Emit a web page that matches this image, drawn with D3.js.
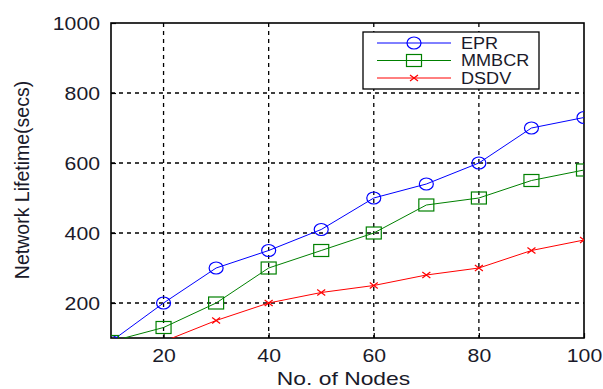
<!DOCTYPE html>
<html>
<head>
<meta charset="utf-8">
<script src="https://cdn.jsdelivr.net/npm/d3@7"></script>
<style>
  body { margin: 0; background: #fff; }
  text { font-family: "Liberation Sans", Arial, sans-serif; fill: #1a1a2a; }
</style>
</head>
<body>
<svg id="canvas" width="603" height="389"></svg>
<script>
const nodes = [10, 20, 30, 40, 50, 60, 70, 80, 90, 100]
const epr = [90, 200, 300, 350, 410, 500, 540, 600, 700, 730]
const mmbcr = [90, 130, 200, 300, 350, 400, 480, 500, 550, 580]
const dsdv = [50, 90, 150, 200, 230, 250, 280, 300, 350, 380]
const xTicks = [20, 40, 60, 80, 100]
const yTicks = [200, 400, 600, 800, 1000]

const series = [
  { name: 'EPR', values: epr, color: '#0000ff', marker: 'circle' },
  { name: 'MMBCR', values: mmbcr, color: '#008000', marker: 'square' },
  { name: 'DSDV', values: dsdv, color: '#ff0000', marker: 'cross' }
]

let svg = d3.select('#canvas')
const pLeft = 111, pRight = 584, pTop = 23, pBottom = 338
// the picture is stretched sideways, so text gets a horizontal scale
const tickSx = 1.18, titleSx = 1.27, legendSx = 1.13

let x = d3.scaleLinear().domain([10, 100]).range([pLeft, pRight])
let y = d3.scaleLinear().domain([100, 1000]).range([pBottom, pTop])

svg.append('defs').append('clipPath').attr('id', 'plot')
  .append('rect').attr('x', pLeft).attr('y', pTop)
  .attr('width', pRight - pLeft).attr('height', pBottom - pTop)

// grid
let grid = svg.append('g').attr('stroke', '#000').attr('stroke-width', 1.3)
  .attr('stroke-dasharray', '4,4')
grid.selectAll('.vg').data(xTicks.slice(0, -1)).enter().append('line')
  .attr('x1', d => x(d)).attr('x2', d => x(d)).attr('y1', pTop).attr('y2', pBottom)
grid.selectAll('.hg').data(yTicks.slice(0, -1)).enter().append('line')
  .attr('x1', pLeft).attr('x2', pRight).attr('y1', d => y(d)).attr('y2', d => y(d))

// axes
let xAxis = svg.append('g').attr('transform', `translate(0,${pBottom})`)
  .call(d3.axisBottom(x).tickValues(xTicks).tickSize(-5).tickPadding(0).tickFormat(d3.format('d')))
xAxis.select('.domain').remove()
xAxis.selectAll('line').attr('stroke', '#000').attr('stroke-width', 1.2)
xAxis.selectAll('text').attr('y', 24).attr('dy', 0)
  .attr('transform', `scale(${tickSx},1)`)
  .style('font-size', '18px')

let yAxis = svg.append('g').attr('transform', `translate(${pLeft},0)`)
  .call(d3.axisLeft(y).tickValues(yTicks).tickSize(-5).tickPadding(0).tickFormat(d3.format('d')))
yAxis.select('.domain').remove()
yAxis.selectAll('line').attr('stroke', '#000').attr('stroke-width', 1.2)
yAxis.selectAll('text').attr('x', -11 / tickSx).attr('dy', '0.35em')
  .attr('transform', `scale(${tickSx},1)`)
  .style('font-size', '18px')

// frame
svg.append('rect').attr('x', pLeft).attr('y', pTop)
  .attr('width', pRight - pLeft).attr('height', pBottom - pTop)
  .attr('fill', 'none').attr('stroke', '#000').attr('stroke-width', 1.6)

// lines and markers
let line = d3.line().x((d, i) => x(nodes[i])).y(d => y(d))

function drawMarker(g, type, color) {
  if (type === 'circle') {
    g.append('ellipse').attr('rx', 7).attr('ry', 6)
      .attr('fill', 'none').attr('stroke', color).attr('stroke-width', 1.2)
  } else if (type === 'square') {
    g.append('rect').attr('x', -7.5).attr('y', -6).attr('width', 15).attr('height', 12)
      .attr('fill', 'none').attr('stroke', color).attr('stroke-width', 1.2)
  } else {
    g.append('path').attr('d', 'M-4,-3L4,3M-4,3L4,-3')
      .attr('stroke', color).attr('stroke-width', 1.2)
  }
}

let plot = svg.append('g').attr('clip-path', 'url(#plot)')
series.forEach(s => {
  plot.append('path').datum(s.values).attr('d', line)
    .attr('fill', 'none').attr('stroke', s.color).attr('stroke-width', 1)
  plot.selectAll(null).data(s.values).enter().append('g')
    .attr('transform', (d, i) => `translate(${x(nodes[i])},${y(d)})`)
    .each(function() { drawMarker(d3.select(this), s.marker, s.color) })
})

// legend
let legend = svg.append('g')
legend.append('rect').attr('x', 363).attr('y', 32).attr('width', 176).attr('height', 57)
  .attr('fill', '#fff').attr('stroke', '#000').attr('stroke-width', 1.3)
series.forEach((s, i) => {
  let ly = 43 + i * 17.5
  legend.append('line').attr('x1', 377).attr('x2', 451).attr('y1', ly).attr('y2', ly)
    .attr('stroke', s.color).attr('stroke-width', 1)
  drawMarker(legend.append('g').attr('transform', `translate(414,${ly})`), s.marker, s.color)
  legend.append('text').attr('x', 461 / legendSx).attr('y', ly).attr('dy', '0.36em')
    .attr('transform', `scale(${legendSx},1)`).style('font-size', '16px').text(s.name)
})

// axis titles
svg.append('text').attr('transform', `translate(${(pLeft + pRight) / 2 - 4},385) scale(${titleSx},1)`)
  .attr('text-anchor', 'middle').style('font-size', '18px').text('No. of Nodes')
svg.append('text').attr('transform', `translate(29,180) rotate(-90)`)
  .attr('text-anchor', 'middle').style('font-size', '19.5px').text('Network Lifetime(secs)')
</script>
</body>
</html>
